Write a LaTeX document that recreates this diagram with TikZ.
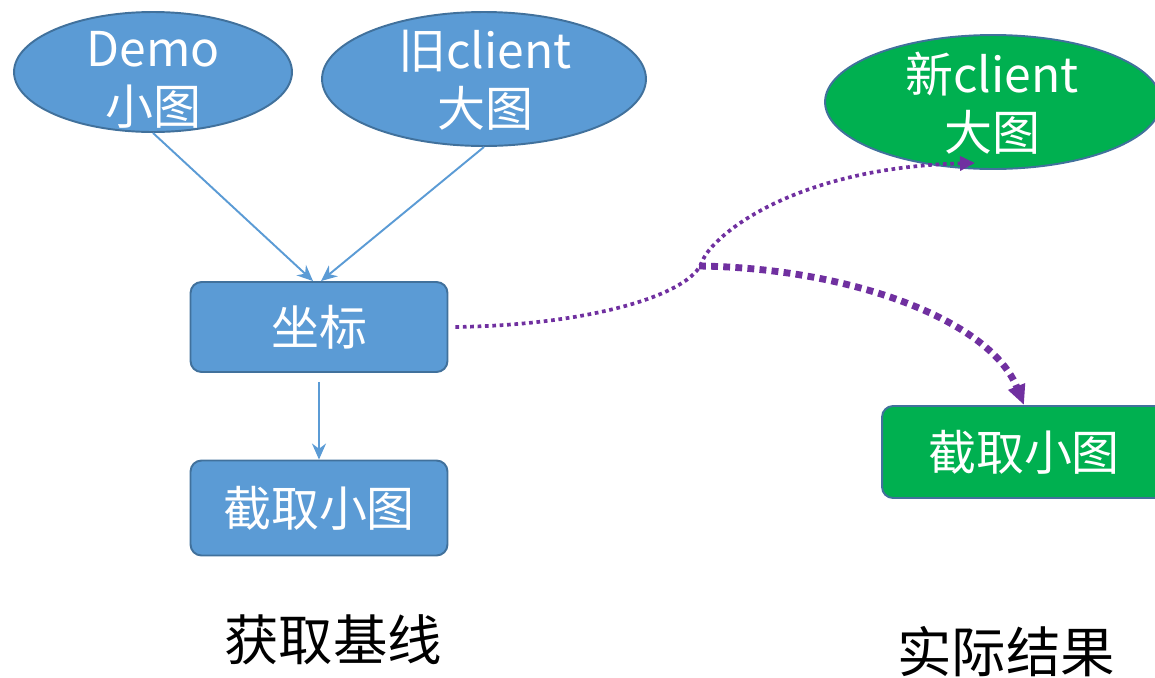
\documentclass[tikz,border=0pt]{standalone}
\usepackage{fontspec}
\setmainfont{Noto Sans CJK SC}
\usetikzlibrary{shapes.geometric,arrows.meta}
\definecolor{bfill}{HTML}{5B9BD5}
\definecolor{bdraw}{HTML}{41719C}
\definecolor{gfill}{HTML}{00B050}
\definecolor{purp}{HTML}{7030A0}
\begin{document}
\begin{tikzpicture}[x=0.02cm,y=-0.02cm,
  ell/.style={ellipse, draw=bdraw, line width=1.1pt, inner sep=0pt},
  etext/.style={text=white, align=center, font=\fontsize{27.3}{33}\selectfont},
  box/.style={rectangle, rounded corners=0.22cm, draw=bdraw, line width=1.1pt, text=white, font=\fontsize{27.3}{33}\selectfont},
  lbl/.style={text=black, font=\fontsize{31}{36}\selectfont},
  barrow/.style={draw=bfill, line width=1.1pt, -{Stealth[length=0.32cm,width=0.28cm]}},
  pthin/.style={draw=purp, line width=2.1pt, dash pattern=on 2.1pt off 2.1pt, -{Triangle[length=0.3cm,width=0.28cm]}},
  pthick/.style={draw=purp, line width=3.9pt, dash pattern=on 3.9pt off 3pt, -{Triangle[length=0.4cm,width=0.34cm]}}
]
\clip (0,0) rectangle (1155,677);
\useasboundingbox (0,0) rectangle (1155,677);

\node[ell, fill=bfill, minimum width=5.56cm, minimum height=2.4cm] (demo) at (153,72) {};
\node[etext] (demot) at (153,80) {Demo\\小图};
\node[ell, fill=bfill, minimum width=6.48cm, minimum height=2.68cm] (old) at (484,79) {};
\node[etext] (oldt) at (485,80) {旧client\\大图};
\node[ell, fill=gfill, minimum width=6.72cm, minimum height=2.68cm] (new) at (993,102) {};
\node[etext] (newt) at (992,103) {新client\\大图};

\node[box, fill=bfill, minimum width=5.14cm, minimum height=1.8cm] (zb) at (319,327) {坐标};
\node[box, fill=bfill, minimum width=5.14cm, minimum height=1.9cm] (jq) at (319,508) {截取小图};
\node[box, fill=gfill, minimum width=5.68cm, minimum height=1.84cm] (gr) at (1024,452) {截取小图};

\node[lbl] (l1) at (333,640) {获取基线};
\node[lbl] (l2) at (1006,652) {实际结果};

\draw[barrow] (demo.south) -- ([xshift=-0.12cm]zb.north);
\draw[barrow] (old.south) -- ([xshift=0.04cm]zb.north);
\draw[barrow] ([yshift=-0.18cm]zb.south) -- (jq.north);

\coordinate (j) at (702,262);
\coordinate (j2) at (699,266);
\coordinate (xt) at (975,163);
\draw[pthin] ([xshift=0.14cm]zb.east) .. controls (590,325) and (690,295) .. (j)
   .. controls (710,238) and (790,168) .. (xt);
\draw[pthick] (j2) .. controls (850,268) and (990,320) .. (gr.north);
\end{tikzpicture}
\end{document}
